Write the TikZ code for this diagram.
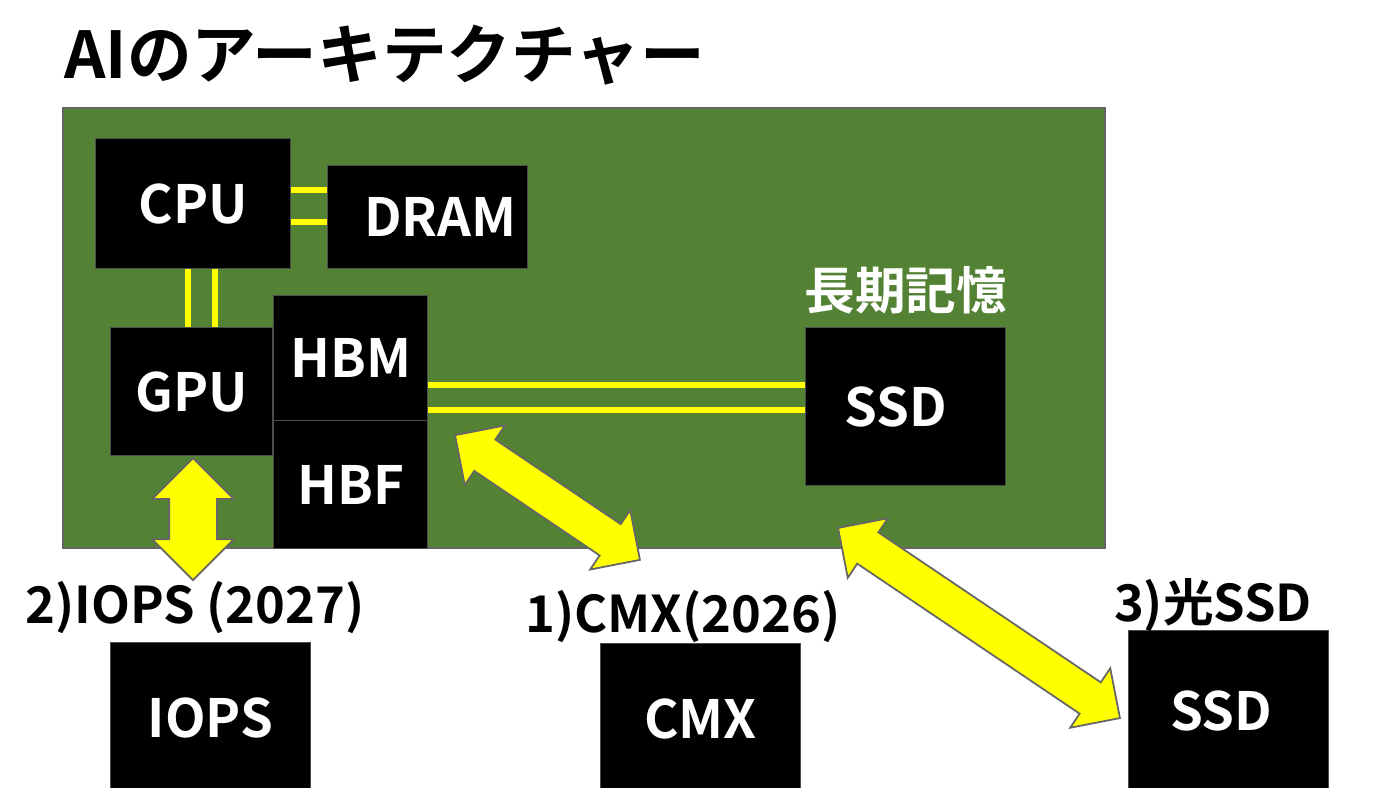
\documentclass[tikz,border=0pt]{standalone}
\usepackage{fontspec}
\setmainfont{Noto Sans CJK JP}[BoldFont=* Bold]
\usetikzlibrary{shapes.arrows,calc}
\definecolor{board}{HTML}{548235}
\definecolor{bus}{HTML}{FFFF00}
\tikzset{
  chip/.style={draw=black!70,fill=black,text=white,font=\bfseries\fontsize{15}{18}\selectfont,anchor=north west,inner sep=0pt},
  lane/.style={bus,line width=1.6pt},
  link/.style={double arrow,draw=black!60,fill=bus,line width=0.5pt,inner xsep=0pt,inner ysep=0.18cm,double arrow head extend=0.17cm},
  tag/.style={font=\bfseries\fontsize{14.4}{17}\selectfont}
}
\begin{document}
\begin{tikzpicture}[x=1cm,y=-1cm]
\useasboundingbox (0,0) rectangle (14,7.87);
% title
\node[anchor=west,font=\bfseries\fontsize{18.4}{22}\selectfont] (title) at (0.52,0.55) {AIのアーキテクチャー};
% board
\fill[board,draw=black!60] (0.63,1.08) rectangle (11.05,5.48);
% chips
\node[chip,minimum width=1.95cm,minimum height=1.30cm] (cpu) at (0.95,1.38) {CPU};
\node[chip,minimum width=2.00cm,minimum height=1.03cm] (dram) at (3.27,1.65) {\hspace{0.25cm}DRAM};
\node[chip,minimum width=1.62cm,minimum height=1.28cm] (gpu) at (1.10,3.27) {GPU};
\node[chip,minimum width=1.54cm,minimum height=1.25cm] (hbm) at (2.73,2.95) {HBM};
\node[chip,minimum width=1.54cm,minimum height=1.28cm] (hbf) at (2.73,4.20) {HBF};
\node[chip,minimum width=2.00cm,minimum height=1.58cm] (ssd) at (8.05,3.27) {\hspace{-0.2cm}SSD};
\node[tag,text=white,anchor=south] (longterm) at (ssd.north) {長期記憶};
% buses
\draw[lane] (cpu.east|-0,1.90) -- (dram.west|-0,1.90);
\draw[lane] (cpu.east|-0,2.22) -- (dram.west|-0,2.22);
\draw[lane] (1.88,0|-cpu.south) -- (1.88,0|-gpu.north);
\draw[lane] (2.15,0|-cpu.south) -- (2.15,0|-gpu.north);
\draw[lane] (hbm.east|-0,3.85) -- (ssd.west|-0,3.85);
\draw[lane] (hbm.east|-0,4.10) -- (ssd.west|-0,4.10);
% outside
\node[chip,minimum width=2.00cm,minimum height=1.50cm] (iops) at (1.10,6.42) {IOPS};
\node[chip,minimum width=2.00cm,minimum height=1.50cm] (cmx) at (6.00,6.43) {CMX};
\node[chip,minimum width=2.00cm,minimum height=1.60cm] (ossd) at (11.28,6.30) {\hspace{-0.15cm}SSD};
\node[tag] (iopslbl) at (1.95,6.08) {2)IOPS (2027)};
\node[tag] (cmxlbl) at (6.83,6.17) {1)CMX(2026)};
\node[tag] (ossdlbl) at (12.13,6.05) {3)光SSD};
% links
\coordinate (a1) at (4.55,4.35); \coordinate (b1) at (6.40,5.60);
\coordinate (a2) at (1.93,4.58); \coordinate (b2) at (1.93,5.80);
\coordinate (a3) at (8.38,5.28); \coordinate (b3) at (11.20,7.18);
\node[link,minimum height=1.22cm,rotate=90,inner ysep=0.23cm] (l2) at ($(a2)!0.5!(b2)$) {};
\node[link,minimum height=2.23cm,rotate=-34] (l1) at ($(a1)!0.5!(b1)$) {};
\node[link,minimum height=3.40cm,rotate=-34] (l3) at ($(a3)!0.5!(b3)$) {};
\end{tikzpicture}
\end{document}
